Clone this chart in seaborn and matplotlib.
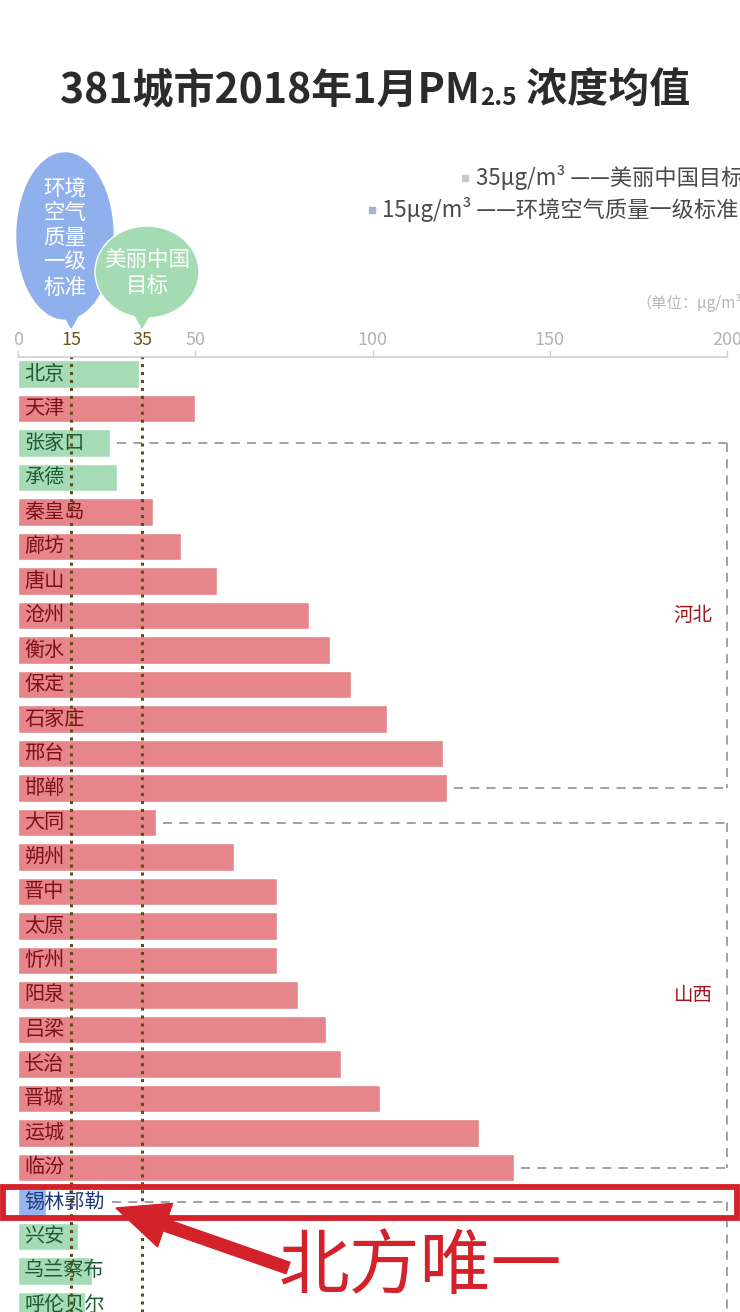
import matplotlib
matplotlib.use('Agg')
import matplotlib.pyplot as plt
import seaborn as sns
import pandas as pd
from matplotlib.patches import Ellipse, Polygon, Rectangle, FancyArrow

# ---------------- data ----------------
cities = ["北京", "天津", "张家口", "承德", "秦皇岛", "廊坊", "唐山", "沧州", "衡水", "保定",
          "石家庄", "邢台", "邯郸", "大同", "朔州", "晋中", "太原", "忻州", "阳泉", "吕梁",
          "长治", "晋城", "运城", "临汾", "锡林郭勒", "兴安", "乌兰察布", "呼伦贝尔"]
values = [34, 50, 26, 28, 38, 46, 56, 82, 88, 94,
          104, 120, 121, 39, 61, 73, 73, 73, 79, 87,
          91, 102, 130, 140, 8, 17, 21, 19]
provinces = ["北京", "天津"] + ["河北"] * 11 + ["山西"] * 11 + ["内蒙古"] * 4
targets = [15, 35]
tick_values = [0, 50, 100, 150, 200]

# ---------------- style ----------------
sns.set_style("white")
plt.rcParams['font.family'] = ['Noto Sans CJK SC', 'DejaVu Sans']

W, H = 740, 1312
fig = plt.figure(figsize=(W / 100, H / 100), dpi=100)

levels = ["blue" if v <= targets[0] else ("green" if v <= targets[1] else "red") for v in values]
df = pd.DataFrame({"city": cities, "value": values, "level": levels, "prov": provinces})
palette = {"blue": "#97b4ee", "green": "#a5dbb5", "red": "#e6868a"}
txtcol = {"blue": "#1d3a78", "green": "#1e5a32", "red": "#7d1018"}

ax_top_px = 357
ax = fig.add_axes([18 / W, 0, (727 - 18) / W, (H - ax_top_px) / H])
sns.barplot(data=df, x="value", y="city", hue="level", palette=palette, dodge=False,
            width=0.8, legend=False, ax=ax, orient="h", saturation=1,
            hue_order=["blue", "green", "red"], order=cities)
row_px = 34.5
ax.set_xlim(0, 200)
ax.set_ylim((H - 374) / row_px, -(374 - ax_top_px) / row_px)
ax.set_ylabel("")
ax.set_xlabel("")
ax.set_yticks([])
for s in ["left", "right", "bottom"]:
    ax.spines[s].set_visible(False)
ax.spines["top"].set_color("#d0d0d0")
ax.spines["top"].set_linewidth(1.2)
ax.xaxis.tick_top()
ticks_all = sorted(tick_values + targets)
ax.set_xticks(ticks_all)
ax.set_xticklabels([str(t) for t in ticks_all])
ax.tick_params(axis="x", top=True, bottom=False, direction="out", length=5, width=1,
               color="#cfcfcf", labelsize=13, pad=1)
for t, lab, tk in zip(ticks_all, ax.get_xticklabels(), ax.xaxis.get_major_ticks()):
    if t in targets:
        lab.set_color("#6b5414")
        tk.tick2line.set_visible(False)
    else:
        lab.set_color("#b3b3b3")

# target dotted lines
for t in targets:
    ax.axvline(t, color="#5e4c1c", lw=2.2, ls=(0, (1, 1.6)), zorder=5)

# city labels inside bars
fig.canvas.draw()
renderer = fig.canvas.get_renderer()
text_end = []
for i, (c, lv) in enumerate(zip(cities, levels)):
    tx = ax.text(1.7, i, c, va="center", ha="left", fontsize=14.5, color=txtcol[lv], zorder=6)
    bb = tx.get_window_extent(renderer)
    text_end.append(ax.transData.inverted().transform((bb.x1, 0))[0])

# province group boxes
dash_kw = dict(color="#9a9a9a", lw=1.3, ls=(0, (5, 4)), zorder=2, clip_on=False)
groups = {}
for i, p in enumerate(provinces):
    groups.setdefault(p, []).append(i)
for p, idx in groups.items():
    if len(idx) < 3:
        continue
    first, last = idx[0], idx[-1]
    x0 = max(values[first], text_end[first]) + 2
    ax.plot([x0, 200], [first, first], **dash_kw)
    if p == "内蒙古":
        ax.plot([200, 200], [first, ax.get_ylim()[0]], **dash_kw)
    else:
        x1 = max(values[last], text_end[last]) + 2
        ax.plot([x1, 200], [last, last], **dash_kw)
        ax.plot([200, 200], [first, last], **dash_kw)
        ax.text(196, (first + last) / 2, p, ha="right", va="center", fontsize=14, color="#a0161c")

# ---------------- overlay (pixel coordinates) ----------------
ov = fig.add_axes([0, 0, 1, 1], zorder=10)
ov.set_xlim(0, W)
ov.set_ylim(H, 0)
ov.axis("off")
ov.patch.set_alpha(0)

def data_x_to_px(x):
    disp = ax.transData.transform((x, 0))
    return disp[0] * W / fig.bbox.width

x15 = data_x_to_px(targets[0])
x35 = data_x_to_px(targets[1])

# title
title_y = 90
fs_t = 29.5
parts = [("381城市2018年1月PM", fs_t, 0), ("2.5", 17.5, 8), (" 浓度均值", fs_t, 0)]
objs = []
for s, fs, dy in parts:
    objs.append((ov.text(0, title_y + dy, s, fontsize=fs, fontweight="bold", color="#2b2b2b",
                         ha="left", va="center"), dy))
fig.canvas.draw()
widths = [o.get_window_extent(renderer).width * W / fig.bbox.width for o, _ in objs]
x = (57 + 693) / 2 - sum(widths) / 2
for (o, dy), w in zip(objs, widths):
    o.set_x(x)
    x += w

# legend lines
ov.add_patch(Rectangle((462, 175), 6, 6, color="#c8c8c8"))
ov.text(476, 178, "35μg/m³ ——美丽中国目标", fontsize=16, color="#4a4a4a", va="center", ha="left")
ov.add_patch(Rectangle((369, 207), 6, 6, color="#a9b3d6"))
ov.text(382, 210, "15μg/m³ ——环境空气质量一级标准", fontsize=16, color="#4a4a4a", va="center", ha="left")
ov.text(W + 2, 303, "（单位：μg/m³", fontsize=11, color="#b5b5b5", va="center", ha="right")

# bubbles
blue_c = "#8fb0ec"
green_c = "#a5dbb3"
ov.add_patch(Ellipse((65, 236), 96, 166, color=blue_c, zorder=3))
ov.add_patch(Polygon([[x15 - 9, 312], [x15 + 9, 312], [x15, 328]], color=blue_c, zorder=3))
ov.text(65, 238, "环境\n空气\n质量\n一级\n标准", fontsize=15.5, color="white", ha="center",
        va="center", linespacing=1.17, zorder=4)
ov.add_patch(Ellipse((147, 272), 104, 92, color=green_c, zorder=5, ec="white", lw=1))
ov.add_patch(Polygon([[x35 - 9, 312], [x35 + 9, 312], [x35, 328]], color=green_c, zorder=5))
ov.text(147, 273, "美丽中国\n目标", fontsize=15.5, color="white", ha="center", va="center",
        linespacing=1.2, zorder=6)

# highlight box, arrow, annotation
red = "#d4222a"
ov.add_patch(Rectangle((3, 1187), 734, 31, fill=False, ec=red, lw=4.2, zorder=8))
ov.add_patch(FancyArrow(288, 1268, -172, -60, width=12, head_width=46, head_length=52,
                        length_includes_head=True, color=red, zorder=8))
ov.text(420, 1267, "北方唯一", fontsize=51, color=red, ha="center", va="center", zorder=8)

fig.savefig("out.png", dpi=100)
